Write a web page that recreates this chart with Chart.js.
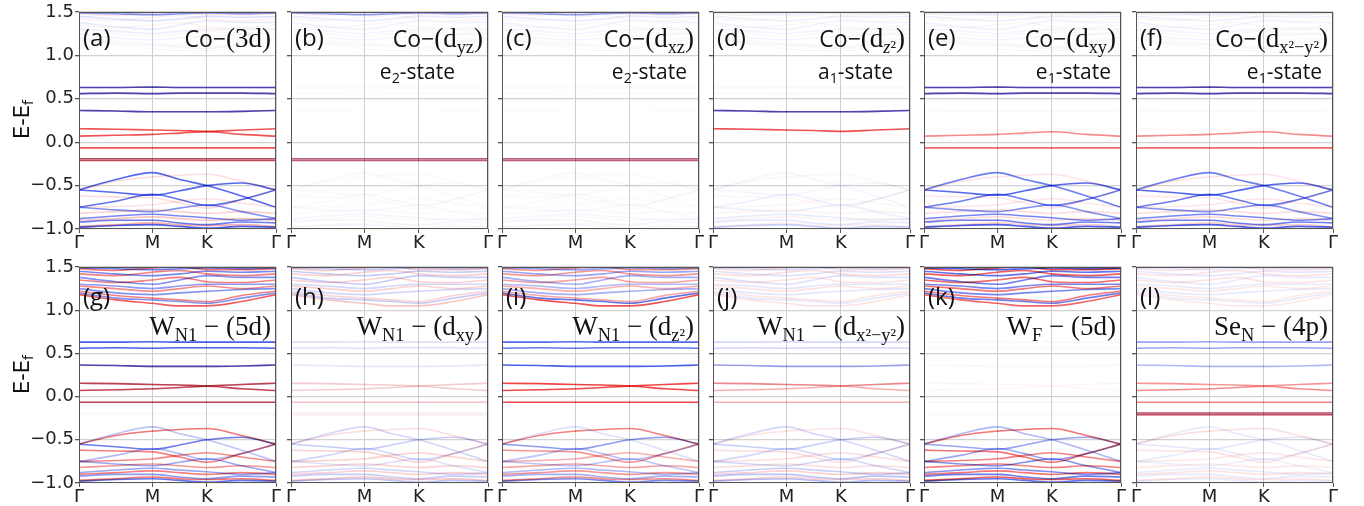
<!DOCTYPE html>
<html>
<head>
<meta charset="utf-8">
<script src="https://cdn.jsdelivr.net/npm/chart.js@4.4.1/dist/chart.umd.min.js"></script>
<style>
  body { margin: 0; background: #fff; width: 1364px; height: 506px; position: relative; overflow: hidden; }
  .pane { position: absolute; }
  .lbl { position: absolute; white-space: nowrap; color: #111; line-height: 1; }
  .tag { font-family: "Open Sans", sans-serif; font-size: 24px; }
  .ttl { font-family: "Liberation Serif", serif; font-size: 27px; text-align: right; }
  .ttl .sans { font-family: "Open Sans", sans-serif; font-size: 23px; }
  .st { font-family: "Open Sans", sans-serif; font-size: 21px; text-align: right; }
  sub { font-size: 0.68em; vertical-align: -0.3em; line-height: 0; }
  .ylab { font-family: "DejaVu Sans", sans-serif; font-size: 21px; transform: rotate(-90deg); transform-origin: center; }
</style>
</head>
<body>
<script>
// k-path (fraction of total path length) and tick labels
const kTicks = [0, 0.373, 0.649, 1];
const kLabels = ['Γ', 'M', 'K', 'Γ'];
const kPath = [0, 0.187, 0.373, 0.511, 0.649, 0.825, 1];

// flat in-gap bands, present in both spin channels
const F1 = [0.63, 0.63, 0.635, 0.63, 0.63, 0.63, 0.63];
const F2 = [0.56, 0.565, 0.56, 0.565, 0.565, 0.565, 0.56];
const F3 = [0.365, 0.36, 0.35, 0.35, 0.35, 0.355, 0.365];
const F4 = [0.155, 0.15, 0.14, 0.135, 0.125, 0.14, 0.155];
const F5 = [0.07, 0.08, 0.09, 0.105, 0.12, 0.09, 0.07];
const F6 = [-0.065, -0.065, -0.065, -0.065, -0.065, -0.065, -0.065];
const F7 = [-0.19, -0.19, -0.19, -0.19, -0.19, -0.19, -0.19];
const F8 = [-0.21, -0.21, -0.21, -0.21, -0.21, -0.21, -0.21];
const flatBands = [F1, F2, F3, F4, F5, F6, F7, F8];

// valence bands, spin up / spin down
const valUp = [
  [-0.55, -0.43, -0.35, -0.43, -0.50, -0.62, -0.75],
  [-0.55, -0.58, -0.61, -0.56, -0.50, -0.47, -0.55],
  [-0.75, -0.68, -0.60, -0.66, -0.73, -0.66, -0.55],
  [-0.75, -0.78, -0.80, -0.76, -0.72, -0.80, -0.88],
  [-0.88, -0.85, -0.83, -0.85, -0.87, -0.90, -0.88],
  [-0.92, -0.90, -0.90, -0.93, -0.95, -0.92, -0.93],
  [-0.98, -0.96, -0.95, -0.97, -0.99, -0.97, -0.98]
];
const valDn = [
  [-0.55, -0.45, -0.40, -0.38, -0.37, -0.45, -0.55],
  [-0.62, -0.63, -0.64, -0.70, -0.76, -0.66, -0.55],
  [-0.75, -0.74, -0.72, -0.68, -0.65, -0.70, -0.75],
  [-0.82, -0.80, -0.78, -0.80, -0.82, -0.80, -0.82],
  [-0.90, -0.88, -0.86, -0.88, -0.90, -0.88, -0.90],
  [-0.97, -0.95, -0.93, -0.95, -0.96, -0.95, -0.97]
];

// conduction bands, spin up / spin down
const conUp = [
  [1.20, 1.14, 1.12, 1.10, 1.08, 1.14, 1.20],
  [1.25, 1.20, 1.18, 1.20, 1.22, 1.24, 1.25],
  [1.30, 1.28, 1.25, 1.28, 1.30, 1.30, 1.30],
  [1.38, 1.33, 1.30, 1.35, 1.40, 1.38, 1.38],
  [1.45, 1.42, 1.40, 1.42, 1.45, 1.44, 1.45],
  [1.49, 1.48, 1.47, 1.48, 1.49, 1.48, 1.49]
];
const conDn = [
  [1.18, 1.12, 1.08, 1.05, 1.05, 1.10, 1.18],
  [1.22, 1.17, 1.14, 1.12, 1.10, 1.17, 1.22],
  [1.28, 1.25, 1.22, 1.25, 1.28, 1.25, 1.28],
  [1.35, 1.32, 1.35, 1.38, 1.33, 1.32, 1.35],
  [1.42, 1.40, 1.44, 1.46, 1.42, 1.40, 1.42],
  [1.48, 1.46, 1.49, 1.50, 1.47, 1.47, 1.48]
];

// projection weights, one row per panel (a..l)
const wFlatUp = [
  [.80, .80, .80, 0, 0, 0, .25, .25],
  [.02, .02, .02, 0, 0, 0, .25, .25],
  [.02, .02, .02, 0, 0, 0, .25, .25],
  [.03, .03, .80, .02, 0, 0, 0, 0],
  [.80, .80, .03, 0, 0, 0, 0, 0],
  [.80, .80, .03, 0, 0, 0, 0, 0],
  [.80, .80, .80, .25, .20, .25, .02, .02],
  [.15, .15, .12, .03, .03, .03, .02, .02],
  [.75, .70, .80, 0, 0, 0, 0, 0],
  [.20, .20, .45, .05, 0, 0, 0, 0],
  [.03, .03, .03, 0, 0, 0, 0, 0],
  [.45, .45, .35, 0, 0, 0, .25, .25]
];
const wFlatDn = [
  [.30, .30, .30, .75, .75, .75, .70, .70],
  [0, 0, 0, 0, 0, 0, .60, .60],
  [0, 0, 0, 0, 0, 0, .60, .60],
  [0, 0, .30, .75, .02, 0, 0, 0],
  [.30, .30, 0, .02, .50, .65, 0, 0],
  [.30, .30, 0, .02, .50, .65, 0, 0],
  [0, 0, .30, .75, .75, .75, .02, .02],
  [0, 0, 0, .20, .20, .25, .06, .06],
  [0, 0, 0, .80, .80, .80, 0, 0],
  [0, 0, .05, .50, .35, .35, 0, 0],
  [0, 0, 0, .04, .04, .04, .02, .02],
  [0, 0, 0, .45, .50, .55, .70, .70]
];
const wValUp = [
  [.75, .75, .70, .55, .60, .65, .80],
  [.03, .03, .03, .03, .05, .05, .05],
  [.03, .03, .03, .03, .05, .05, .05],
  [.05, .05, .08, .08, .10, .12, .25],
  [.65, .75, .65, .55, .60, .65, .80],
  [.65, .75, .65, .55, .60, .65, .80],
  [.30, .65, .35, .45, .45, .50, .70],
  [.20, .25, .20, .15, .20, .25, .30],
  [.15, .50, .30, .30, .35, .40, .60],
  [.20, .25, .20, .20, .25, .30, .35],
  [.35, .45, .45, .55, .55, .65, .70],
  [.10, .12, .10, .08, .10, .10, .10]
];
const wValDn = [
  [.15, .15, .12, .20, .25, .35],
  [.02, .02, .02, .03, .03, .03],
  [.02, .02, .02, .03, .03, .03],
  [.04, .04, .04, .05, .05, .06],
  [.12, .10, .10, .15, .15, .20],
  [.12, .10, .10, .15, .15, .20],
  [.60, .55, .50, .45, .55, .60],
  [.15, .20, .20, .20, .20, .25],
  [.55, .45, .35, .40, .45, .50],
  [.12, .15, .15, .15, .20, .20],
  [.60, .60, .55, .55, .60, .70],
  [.15, .12, .10, .10, .12, .12]
];
const wConUp = [
  [.06, .06, .08, .10, .15, .55],
  [.04, .04, .05, .06, .10, .50],
  [.04, .04, .05, .06, .10, .50],
  [.05, .05, .06, .06, .08, .08],
  [.05, .05, .05, .06, .08, .10],
  [.05, .05, .05, .06, .08, .10],
  [.55, .55, .50, .55, .60, .65],
  [.25, .20, .20, .25, .25, .30],
  [.70, .40, .35, .40, .45, .50],
  [.12, .12, .12, .15, .15, .20],
  [.65, .60, .60, .65, .70, .80],
  [.10, .10, .10, .10, .12, .12]
];
const wConDn = [
  [.03, .03, .04, .05, .06, .10],
  [.02, .02, .03, .03, .04, .06],
  [.02, .02, .03, .03, .04, .06],
  [.03, .03, .03, .04, .04, .05],
  [.03, .03, .03, .04, .04, .05],
  [.03, .03, .03, .04, .04, .05],
  [.70, .55, .50, .55, .55, .60],
  [.25, .20, .20, .20, .20, .25],
  [.75, .40, .35, .40, .45, .45],
  [.12, .12, .12, .12, .15, .15],
  [.65, .60, .60, .65, .70, .75],
  [.10, .10, .10, .12, .12, .12]
];

// panel texts
const tags = ['(a)', '(b)', '(c)', '(d)', '(e)', '(f)', '(g)', '(h)', '(i)', '(j)', '(k)', '(l)'];
const titles = [
  '<span class="sans">Co−</span>(3d)',
  '<span class="sans">Co−</span>(d<sub>yz</sub>)',
  '<span class="sans">Co−</span>(d<sub>xz</sub>)',
  '<span class="sans">Co−</span>(d<sub><i>z</i>²</sub>)',
  '<span class="sans">Co−</span>(d<sub>xy</sub>)',
  '<span class="sans">Co−</span>(d<sub>x²−y²</sub>)',
  'W<sub>N1</sub> − (5d)',
  'W<sub>N1</sub> − (d<sub>xy</sub>)',
  'W<sub>N1</sub> − (d<sub>z²</sub>)',
  'W<sub>N1</sub> − (d<sub>x²−y²</sub>)',
  'W<sub>F</sub> − (5d)',
  'Se<sub>N</sub> − (4p)'
];
const states = ['', 'e<sub>2</sub>-state', 'e<sub>2</sub>-state', 'a<sub>1</sub>-state', 'e<sub>1</sub>-state', 'e<sub>1</sub>-state',
  '', '', '', '', '', ''];

// layout
const PLOT_LEFT = [79, 291, 502, 713, 924, 1136];
const PLOT_W = 197;
const ROW_TOP = [12, 267];
const PLOT_H = [217, 216];
const STATE_INSET = [0, 33, 12, 17, 10, 11];

const UP = [30, 55, 230];
const DN = [235, 25, 25];
const rgba = (c, a) => `rgba(${c[0]},${c[1]},${c[2]},${a})`;

// darken overlapping spin channels, then draw the frame
const blendFrame = {
  id: 'blendFrame',
  beforeDatasetsDraw(chart) {
    chart.ctx.save();
    chart.ctx.globalCompositeOperation = 'multiply';
  },
  afterDatasetsDraw(chart) {
    const { ctx, chartArea: a } = chart;
    ctx.restore();
    ctx.save();
    ctx.strokeStyle = '#555';
    ctx.lineWidth = 1;
    ctx.strokeRect(a.left + 0.5, a.top + 0.5, a.width - 1, a.height - 1);
    ctx.restore();
  }
};

function bandSet(energies, w, color) {
  return {
    data: kPath.map((x, i) => ({ x, y: energies[i] })),
    borderColor: rgba(color, w),
    borderWidth: 1.6,
    pointRadius: 0,
    cubicInterpolationMode: 'monotone',
    fill: false
  };
}

function addLabel(cls, html, css) {
  const d = document.createElement('div');
  d.className = 'lbl ' + cls;
  d.innerHTML = html;
  Object.assign(d.style, css);
  document.body.appendChild(d);
}

for (let p = 0; p < 12; p++) {
  const row = Math.floor(p / 6), col = p % 6;
  const yW = col === 0 ? 79 : 12, padT = 12, padR = 12, xH = 27;
  const plotH = PLOT_H[row];

  const pane = document.createElement('div');
  pane.className = 'pane';
  pane.style.left = (PLOT_LEFT[col] - yW) + 'px';
  pane.style.top = (ROW_TOP[row] - padT) + 'px';
  const cv = document.createElement('canvas');
  cv.width = yW + PLOT_W + padR;
  cv.height = padT + plotH + xH;
  pane.appendChild(cv);
  document.body.appendChild(pane);

  const datasets = [];
  const push = (bands, weights, color) => bands.forEach((b, i) => {
    if (weights[i] > 0) datasets.push(bandSet(b, weights[i], color));
  });
  push(conDn, wConDn[p], DN);
  push(conUp, wConUp[p], UP);
  push(valDn, wValDn[p], DN);
  push(valUp, wValUp[p], UP);
  push(flatBands, wFlatDn[p], DN);
  push(flatBands, wFlatUp[p], UP);

  new Chart(cv, {
    type: 'line',
    data: { datasets },
    options: {
      responsive: false,
      animation: false,
      events: [],
      layout: { padding: { top: padT, right: padR, left: 0, bottom: 0 } },
      plugins: { legend: { display: false }, tooltip: { enabled: false } },
      scales: {
        x: {
          type: 'linear', min: 0, max: 1,
          afterBuildTicks: ax => { ax.ticks = kTicks.map(v => ({ value: v })); },
          afterFit: s => { s.height = xH; },
          ticks: {
            callback: v => { const i = kTicks.indexOf(v); return i >= 0 ? kLabels[i] : ''; },
            font: { family: 'DejaVu Sans', size: 18 }, color: '#222',
            padding: 0, maxRotation: 0, autoSkip: false
          },
          grid: { color: '#cfcfcf', tickColor: '#555', tickLength: 4, lineWidth: 1 },
          border: { display: false }
        },
        y: {
          min: -1, max: 1.5,
          afterFit: s => { s.width = yW; },
          ticks: {
            stepSize: 0.5,
            callback: v => col === 0 ? v.toFixed(1).replace('-', '−') : '',
            font: { family: 'DejaVu Sans', size: 18 }, color: '#222', padding: 1
          },
          grid: { color: '#d2d2d2', tickColor: '#555', tickLength: 4, lineWidth: 1.3 },
          border: { display: false }
        }
      }
    },
    plugins: [blendFrame]
  });

  // panel annotations
  const plotRight = PLOT_LEFT[col] + PLOT_W;
  const top = ROW_TOP[row];
  addLabel('tag', tags[p], { left: (PLOT_LEFT[col] + 4) + 'px', top: (top + (row === 0 ? 13 : 17)) + 'px' });
  addLabel('ttl', titles[p], { right: (1364 - plotRight + 5) + 'px', top: (top + (row === 0 ? 13 : 46)) + 'px' });
  if (states[p]) addLabel('st', states[p], { right: (1364 - plotRight + STATE_INSET[col]) + 'px', top: (top + 49) + 'px' });
}

// y-axis titles
[120, 375].forEach(cy => {
  addLabel('ylab', 'E-E<sub>f</sub>', { left: '-6px', width: '56px', textAlign: 'center', top: (cy - 11) + 'px' });
});
</script>
</body>
</html>
